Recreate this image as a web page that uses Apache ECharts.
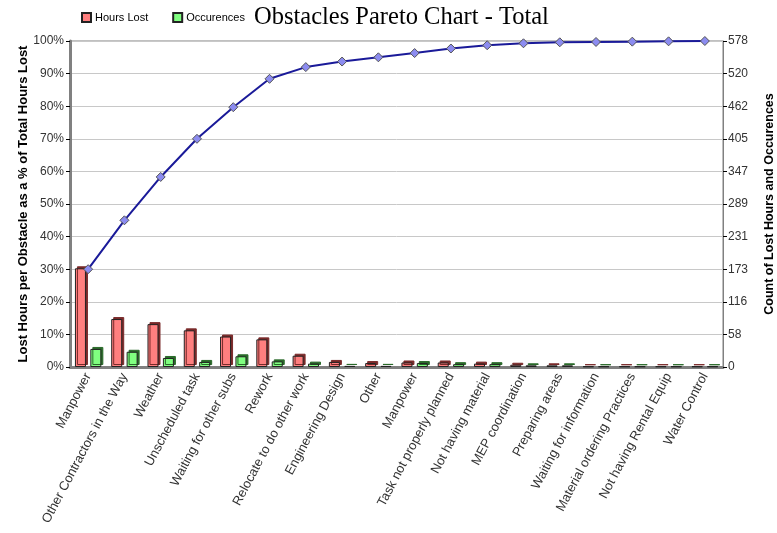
<!DOCTYPE html>
<html><head><meta charset="utf-8">
<script src="https://cdn.jsdelivr.net/npm/echarts@6/dist/echarts.min.js"></script>
<style>html,body{margin:0;padding:0;background:#fff}#c{width:777px;height:533px}</style>
</head><body><div id="c"></div>
<script>
const categories = ["Manpower","Other Contractors in the Way","Weather","Unscheduled task","Waiting for other subs","Rework","Relocate to do other work","Engineering Design","Other","Manpower","Task not properly planned","Not having material","MEP coordination","Preparing areas","Waiting for information","Material ordering Practices","Not having Rental Equip","Water Control"];
const hoursLost = [175, 85, 76, 65, 54, 49, 20, 9, 7, 8, 8, 6, 4, 3, 1, 1, 1, 1];
const occurences = [32, 27, 16, 9, 19, 10, 6, 2, 2, 7, 5, 5, 3, 3, 1, 1, 1, 1];
const cumulativePct = [30.0, 45.0, 58.3, 70.0, 79.7, 88.4, 92.0, 93.7, 95.0, 96.3, 97.7, 98.7, 99.3, 99.6, 99.7, 99.8, 99.9, 100];
const rightMax = 578;

const chart = echarts.init(document.getElementById('c'));
const font = 'Liberation Sans, Arial, sans-serif';
chart.setOption({
  animation: false,
  backgroundColor: '#fff',
  title: {
    text: 'Obstacles Pareto Chart - Total',
    left: 249, top: 0,
    textStyle: {fontFamily: 'Liberation Serif, Times New Roman, serif', fontWeight: 'normal', fontSize: 24.5, color: '#000'}
  },
  legend: {
    data: ['Hours Lost', 'Occurences'],
    left: 76, top: 7, itemWidth: 9, itemHeight: 9, itemGap: 24,
    icon: 'rect',
    textStyle: {fontFamily: font, fontSize: 11, color: '#000', padding: [0,0,0,-1]}
  },
  grid: {left: 70, right: 54, top: 41, bottom: 166, show: true, borderColor: '#808080', borderWidth: 1,
    outerBoundsMode: 'none', containLabel: false},
  xAxis: {
    type: 'category', data: categories,
    axisLine: {lineStyle: {color: '#808080', width: 3}},
    axisTick: {alignWithLabel: true, length: 5, lineStyle: {color: '#000'}},
    axisLabel: {rotate: 62, interval: 0, fontFamily: font, fontSize: 13, color: '#333', margin: 7}
  },
  yAxis: [
    {
      type: 'value', min: 0, max: 100, interval: 10, position: 'left',
      name: 'Lost Hours per Obstacle as a % of Total Hours Lost',
      nameLocation: 'middle', nameRotate: 90, nameGap: 40, nameMoveOverlap: false,
      nameTextStyle: {fontFamily: font, fontSize: 13, fontWeight: 'bold', color: '#000'},
      axisLine: {show: true, lineStyle: {color: '#808080', width: 3}},
      axisTick: {show: true, length: 4, lineStyle: {color: '#000'}},
      axisLabel: {formatter: '{value}%', fontFamily: font, fontSize: 12, color: '#333', margin: 6},
      splitLine: {show: true, lineStyle: {color: '#c8c8c8', width: 1}}
    },
    {
      type: 'value', min: 0, max: rightMax, interval: rightMax / 10, position: 'right',
      name: 'Count of Lost Hours and Occurences',
      nameLocation: 'middle', nameRotate: 90, nameGap: 40,
      nameTextStyle: {fontFamily: font, fontSize: 12.5, fontWeight: 'bold', color: '#000'},
      axisLine: {show: true, lineStyle: {color: '#808080', width: 1}},
      axisTick: {show: true, length: 4, lineStyle: {color: '#000'}},
      axisLabel: {formatter: v => Math.round(v), fontFamily: font, fontSize: 12, color: '#333', margin: 5},
      splitLine: {show: false}
    }
  ],
  series: [
    {
      name: 'Hours Lost', type: 'bar', yAxisIndex: 1, data: hoursLost,
      barWidth: 11, barGap: '40%',
      itemStyle: {color: '#ff7f7f', borderColor: '#222', borderWidth: 1,
        shadowColor: '#7a2a2a', shadowBlur: 0, shadowOffsetX: 2, shadowOffsetY: -2}
    },
    {
      name: 'Occurences', type: 'bar', yAxisIndex: 1, data: occurences,
      barWidth: 11,
      itemStyle: {color: '#80ff80', borderColor: '#222', borderWidth: 1,
        shadowColor: '#2a6a2a', shadowBlur: 0, shadowOffsetX: 2, shadowOffsetY: -2}
    },
    {
      name: 'Cumulative', type: 'line', yAxisIndex: 0, data: cumulativePct,
      symbol: 'diamond', symbolSize: 9, z: 5,
      lineStyle: {color: '#1a1a99', width: 2},
      itemStyle: {color: '#8c8cf0', borderColor: '#555', borderWidth: 1}
    }
  ]
});
</script></body></html>
